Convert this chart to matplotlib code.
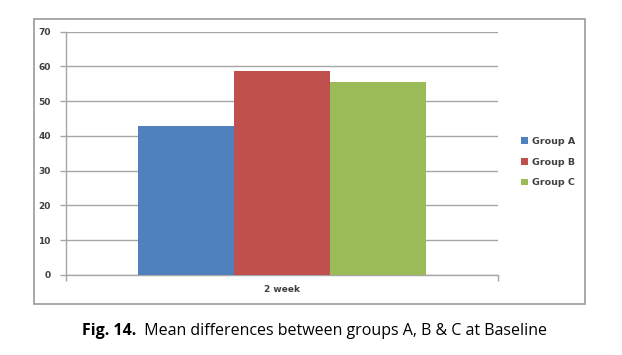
import matplotlib
matplotlib.use("Agg")
import matplotlib.pyplot as plt
from matplotlib.patches import Rectangle

# data
category = ["2 week"]
groups = ["Group A", "Group B", "Group C"]
values = [43.0, 58.7, 55.4]
colors = ["#4F81BD", "#C0504D", "#9BBB59"]
y_ticks = [0, 10, 20, 30, 40, 50, 60, 70]

W, H = 622, 355
fig = plt.figure(figsize=(W / 100, H / 100), dpi=100)
fig.patch.set_facecolor("white")

# chart frame
fig.patches.append(Rectangle((33.5 / W, 1 - 303.5 / H), 551 / W, 284.5 / H,
                             transform=fig.transFigure, fill=False,
                             edgecolor="#9a9a9a", lw=1.2, zorder=0))

ax = fig.add_axes([66 / W, 1 - 275 / H, 432 / W, 243.3 / H])

bw = 0.667 / len(groups)
for i, (g, v, c) in enumerate(zip(groups, values, colors)):
    ax.bar((i - 1) * bw, v, width=bw, color=c, label=g, zorder=3)

ax.set_xlim(-0.5, 0.5)
ax.set_ylim(0, 70)
ax.set_yticks(y_ticks)
ax.set_yticklabels([str(t) for t in y_ticks], fontsize=6.5, color="#404040",
                   fontweight="bold", family="DejaVu Sans")
ax.yaxis.grid(True, color="#a6a6a6", lw=1, zorder=0)
ax.set_xticks([0])
ax.set_xticklabels(category, fontsize=6.5, color="#404040", fontweight="bold")
ax.tick_params(axis="x", length=0, pad=7)
ax.tick_params(axis="y", length=4, color="#a6a6a6", width=1, pad=7)
ax.set_xticks([-0.5, 0.5], minor=True)
ax.tick_params(axis="x", which="minor", length=4, color="#a6a6a6", width=1)

for s in ["top", "right"]:
    ax.spines[s].set_visible(False)
for s in ["left", "bottom"]:
    ax.spines[s].set_color("#a6a6a6")
    ax.spines[s].set_linewidth(1)

ax.legend(loc="center left", bbox_to_anchor=(512 / W, 1 - 162 / H),
          bbox_transform=fig.transFigure, frameon=False,
          prop={"size": 6.8, "weight": "bold"}, labelcolor="#404040",
          handlelength=0.8, handleheight=0.7, handletextpad=0.4,
          labelspacing=1.25)

t1 = fig.text(82 / W, 1 - 335 / H, "Fig. 14.", fontsize=11.5, fontweight="bold",
              family="Open Sans", va="baseline", ha="left")
ax.annotate("  Mean differences between groups A, B & C at Baseline",
            xy=(1, 0), xycoords=t1, va="bottom", ha="left",
            fontsize=11.5, family="Open Sans", annotation_clip=False)

fig.savefig("out.png", dpi=100)
